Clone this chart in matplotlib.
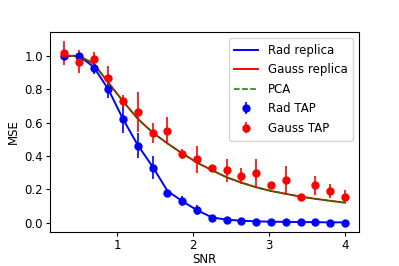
import numpy as np
import matplotlib
matplotlib.use("Agg")
import matplotlib.pyplot as plt

# SNR grid used for both TAP points and replica curves
snr = np.linspace(0.3, 4.0, 20)

rad_replica = [1.0, 1.0, 0.935, 0.80, 0.62, 0.464, 0.335, 0.19, 0.129, 0.075,
               0.032, 0.018, 0.012, 0.008, 0.006, 0.005, 0.004, 0.003, 0.002, 0.002]
gauss_replica = [1.0, 1.0, 0.955, 0.84, 0.727, 0.622, 0.54, 0.475, 0.415, 0.36,
                 0.315, 0.272, 0.24, 0.212, 0.19, 0.173, 0.156, 0.143, 0.131, 0.12]
pca = gauss_replica

rad_tap = [1.0, 1.0, 0.93, 0.80, 0.62, 0.46, 0.33, 0.18, 0.13, 0.075,
           0.027, 0.016, 0.01, 0.006, 0.005, 0.004, 0.003, 0.002, 0.001, 0.001]
rad_tap_err = [0.01, 0.01, 0.04, 0.05, 0.085, 0.075, 0.07, 0.02, 0.03, 0.03,
               0.01, 0.005, 0.005, 0.004, 0.003, 0.003, 0.002, 0.002, 0.002, 0.002]
gauss_tap = [1.016, 0.966, 0.98, 0.87, 0.73, 0.665, 0.538, 0.552, 0.413, 0.38,
             0.328, 0.313, 0.279, 0.296, 0.224, 0.256, 0.156, 0.223, 0.189, 0.156]
gauss_tap_err = [0.073, 0.07, 0.045, 0.07, 0.035, 0.12, 0.06, 0.08, 0.03, 0.08,
                 0.02, 0.07, 0.05, 0.085, 0.02, 0.085, 0.01, 0.055, 0.04, 0.04]

plt.rcParams['font.size'] = 8.5
fig = plt.figure(figsize=(3.99, 2.66), dpi=100)
ax = fig.add_axes([0.125, 0.128, 0.775, 0.752])

ax.plot(snr, rad_replica, 'b-', lw=1.4, label='Rad replica')
ax.plot(snr, gauss_replica, 'r-', lw=1.4, label='Gauss replica')
ax.plot(snr, pca, 'g--', lw=1.1, label='PCA')
ax.errorbar(snr, rad_tap, yerr=rad_tap_err, fmt='bo', ms=5, elinewidth=1.2, label='Rad TAP')
ax.errorbar(snr, gauss_tap, yerr=gauss_tap_err, fmt='ro', ms=5, elinewidth=1.2, label='Gauss TAP')

ax.set_xlabel('SNR', labelpad=1)
ax.set_ylabel('MSE', labelpad=3)
ax.set_xticks([1, 2, 3, 4])
ax.set_yticks([0.0, 0.2, 0.4, 0.6, 0.8, 1.0])
ax.tick_params(length=3, pad=2)
ax.legend(loc='upper right', fontsize=8.5, handlelength=2.0, labelspacing=0.55,
          borderpad=0.5)

fig.savefig('out.png', dpi=100)
